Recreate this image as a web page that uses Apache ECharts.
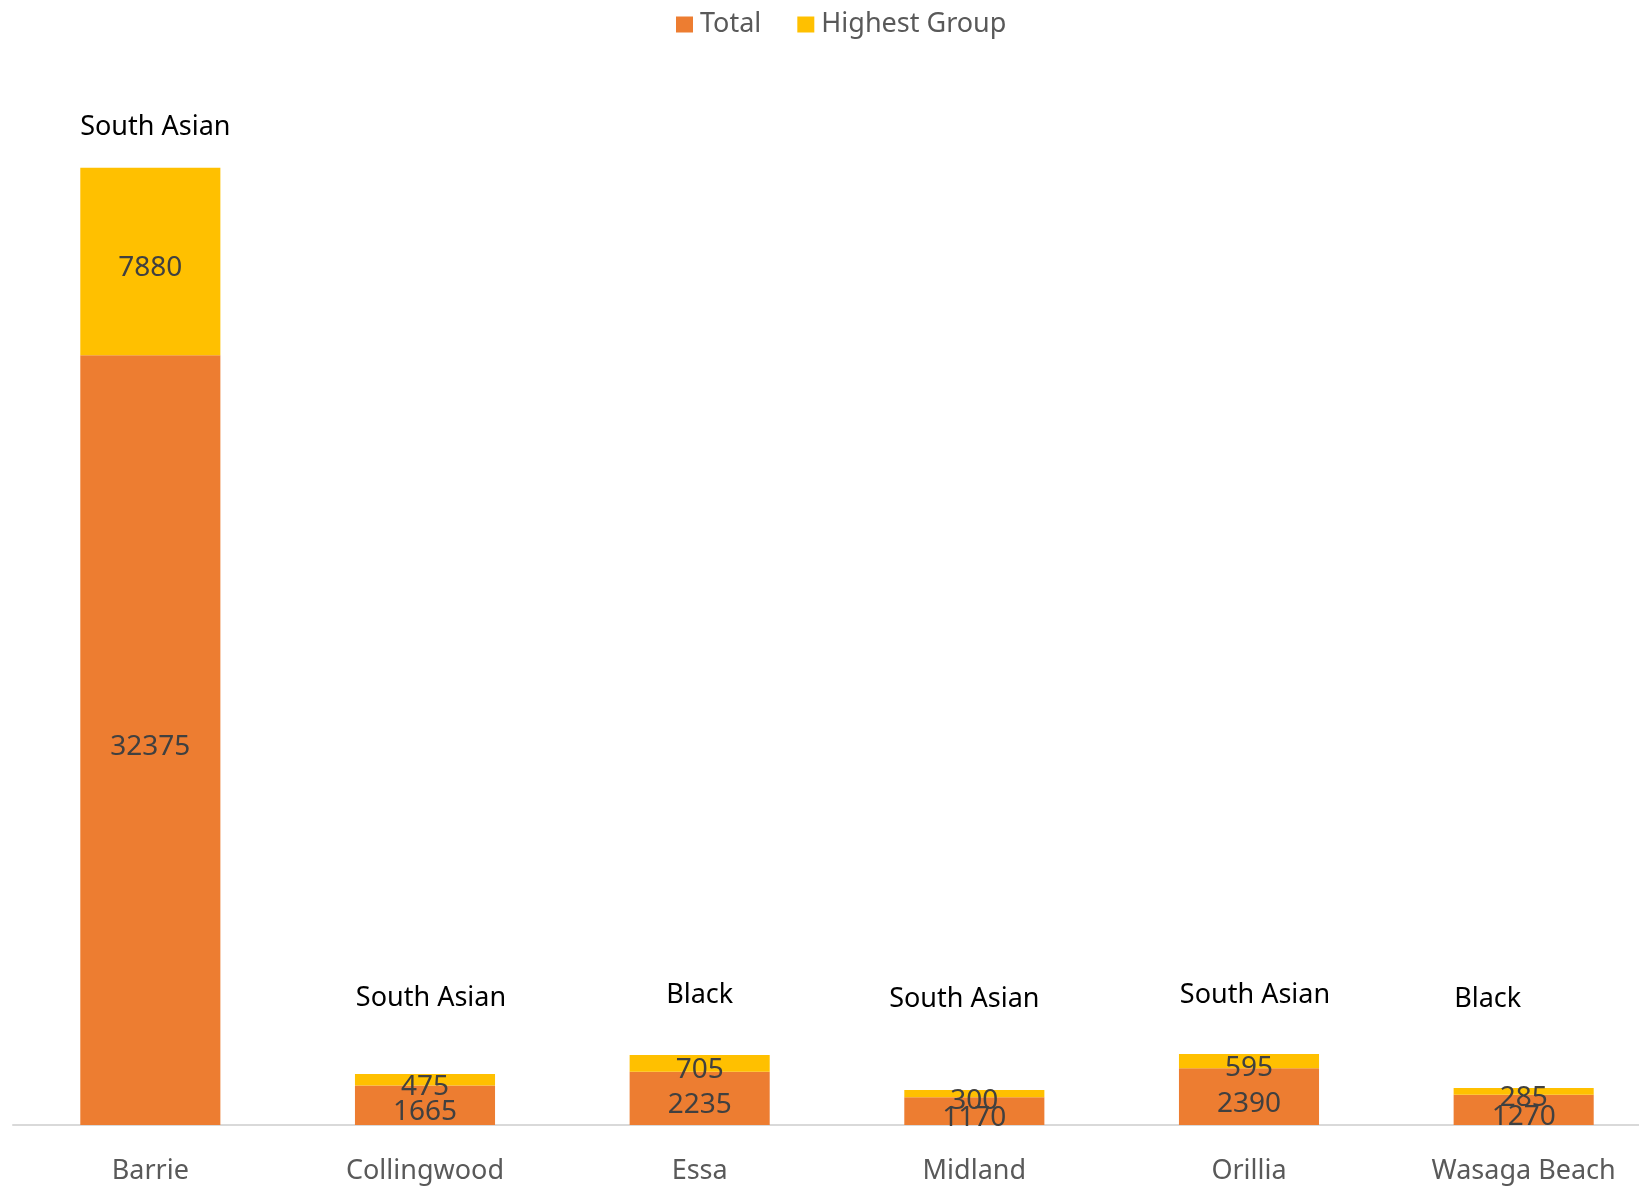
<!DOCTYPE html>
<html><head><meta charset="utf-8">
<script src="https://cdn.jsdelivr.net/npm/echarts@6/dist/echarts.min.js"></script>
<style>html,body{margin:0;padding:0;background:#fff}#c{width:1639px;height:1188px}</style>
</head><body><div id="c"></div>
<script>
const categories = ['Barrie', 'Collingwood', 'Essa', 'Midland', 'Orillia', 'Wasaga Beach'];
const totalValues = [32375, 1665, 2235, 1170, 2390, 1270];
const highestValues = [7880, 475, 705, 300, 595, 285];
const highestGroupNames = ['South Asian', 'South Asian', 'Black', 'South Asian', 'South Asian', 'Black'];

// label placement styling (distance above stack top, horizontal nudge)
const nameLabelDistance = [23, 58, 42, 73, 41, 71];
const nameLabelNudgeX = [5, 6, 0, -10, 6, -36];

const FONT = 'Noto Sans';
const chart = echarts.init(document.getElementById('c'), null, {renderer: 'canvas'});
chart.setOption({
  animation: false,
  textStyle: {fontFamily: FONT},
  legend: {
    data: ['Total', 'Highest Group'],
    top: 6, left: 671,
    itemWidth: 17, itemHeight: 16, itemGap: 36,
    icon: 'rect',
    textStyle: {fontFamily: FONT, fontSize: 27, color: '#595959', padding: [0, 0, 0, 2]}
  },
  grid: {left: 13, top: 55, width: 1648, height: 1070, containLabel: false, outerBoundsMode: 'none'},
  xAxis: {
    type: 'category', data: categories,
    axisLine: {lineStyle: {color: '#d9d9d9', width: 2}},
    axisTick: {show: false},
    axisLabel: {fontFamily: FONT, fontSize: 27, color: '#595959', margin: 33, interval: 0}
  },
  yAxis: {type: 'value', min: 0, max: 45000, show: false, splitLine: {show: false}},
  series: [
    {
      name: 'Total', type: 'bar', stack: 's', barWidth: '51%',
      itemStyle: {color: '#ED7D31'},
      data: totalValues,
      label: {show: true, position: 'inside', fontFamily: FONT, fontSize: 28, color: '#404040', offset: [0, 7]}
    },
    {
      name: 'Highest Group', type: 'bar', stack: 's', barWidth: '51%',
      itemStyle: {color: '#FFC000'},
      data: highestValues,
      label: {show: true, position: 'inside', fontFamily: FONT, fontSize: 28, color: '#404040', offset: [0, 7]}
    },
    {
      name: 'Group', type: 'bar', stack: 's', barWidth: '51%',
      itemStyle: {color: 'transparent'},
      data: highestGroupNames.map((g, i) => ({
        value: 0,
        label: {distance: nameLabelDistance[i], offset: [nameLabelNudgeX[i], 0]}
      })),
      label: {
        show: true, position: 'top', fontFamily: FONT, fontSize: 27, color: '#000000', lineHeight: 36,
        formatter: p => highestGroupNames[p.dataIndex]
      }
    }
  ]
});
</script></body></html>
